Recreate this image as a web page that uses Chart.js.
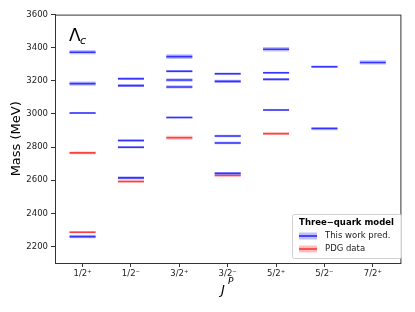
<!DOCTYPE html>
<html>
<head>
<meta charset="utf-8">
<script src="https://cdn.jsdelivr.net/npm/chart.js@4"></script>
<style>
  body { margin: 0; background: #fff; }
  #wrap { width: 415px; height: 312px; }
</style>
</head>
<body>
<div id="wrap"><canvas id="chart1" width="415" height="312"></canvas></div>
<script>
// J^P categories on the x axis
const categories = ['1/2\u207A', '1/2\u207B', '3/2\u207A', '3/2\u207B', '5/2\u207A', '5/2\u207B', '7/2\u207A'];
const yTicks = [2200, 2400, 2600, 2800, 3000, 3200, 3400, 3600];

// this work predictions (MeV), one list per J^P
const predMass = [
  [2259, 3006, 3183, 3373],
  [2614, 2799, 2840, 3171, 3213],
  [2979, 3163, 3205, 3258, 3346],
  [2641, 2825, 2867, 3197, 3243],
  [3024, 3209, 3249, 3391],
  [2912, 3285],
  [3311]
];
const predErr = [
  [10, 5, 13, 13],
  [10, 8, 8, 8, 8],
  [6, 10, 10, 8, 14],
  [8, 8, 8, 10, 8],
  [6, 6, 6, 14],
  [10, 7],
  [13]
];

// PDG data (MeV)
const pdgMass = [[2286, 2765], [2592], [2856], [2628], [2881], [], []];
const pdgErr = [[7, 8], [7], [12], [6], [6], [], []];

const blueLine = 'rgba(10,10,255,0.85)';
const blueBand = 'rgba(60,60,255,0.33)';
const redLine = 'rgba(255,20,20,0.8)';
const redBand = 'rgba(255,60,60,0.33)';

function toPoints(mass, err) {
  const pts = [];
  mass.forEach((list, i) => list.forEach((m, k) => pts.push({x: i, y: m, e: err[i][k]})));
  return pts;
}

// band thickness follows the error in MeV through the y scale
function bandWidth(ctx) {
  const p = ctx.raw;
  const y = ctx.chart.scales.y;
  if (!p || !y) return 3;
  return Math.max(2, Math.abs(y.getPixelForValue(p.y - p.e) - y.getPixelForValue(p.y + p.e)));
}

function levelSet(label, pts, line, band) {
  return [{
    label: label + ' band',
    data: pts,
    pointStyle: 'line',
    pointRadius: 13,
    pointHoverRadius: 13,
    pointBorderColor: band,
    pointBorderWidth: bandWidth,
    pointHoverBorderWidth: bandWidth,
    showLine: false
  }, {
    label: label,
    data: pts,
    pointStyle: 'line',
    pointRadius: 13,
    pointHoverRadius: 13,
    pointBorderColor: line,
    pointBorderWidth: 1.6,
    pointHoverBorderWidth: 1.6,
    showLine: false
  }];
}

const extras = {
  id: 'extras',
  afterDraw(chart) {
    const c = chart.ctx;
    const a = chart.chartArea;
    c.save();
    // frame
    c.strokeStyle = '#333';
    c.lineWidth = 1;
    c.strokeRect(a.left + 0.5, a.top + 0.5, a.right - a.left, a.bottom - a.top);

    // axis titles
    c.fillStyle = '#000';
    c.font = '13px "DejaVu Sans"';
    c.textAlign = 'center';
    c.textBaseline = 'middle';
    c.save();
    c.translate(17, (a.top + a.bottom) / 2);
    c.rotate(-Math.PI / 2);
    c.fillText('Mass (MeV)', 0, 0);
    c.restore();

    c.textAlign = 'left';
    c.textBaseline = 'alphabetic';
    c.font = 'italic 13px "DejaVu Sans"';
    c.fillText('J', 221, 294);
    c.font = 'italic 9px "DejaVu Sans"';
    c.fillText('P', 228, 284);

    // baryon label
    c.font = '17px "DejaVu Sans"';
    c.fillText('\u039B', 69, 41);
    c.font = 'italic 11px "DejaVu Sans"';
    c.fillText('c', 80, 44);

    // legend
    const lx = 292, ly = 214, lw = 109, lh = 44;
    c.fillStyle = 'rgba(255,255,255,0.85)';
    c.strokeStyle = '#d0d0d0';
    c.beginPath();
    c.roundRect(lx + 0.5, ly + 0.5, lw, lh, 2);
    c.fill();
    c.stroke();
    c.fillStyle = '#000';
    c.font = 'bold 8.5px "DejaVu Sans"';
    c.textAlign = 'center';
    c.textBaseline = 'middle';
    c.fillText('Three\u2212quark model', lx + lw / 2, ly + 8.5);
    const items = [['This work pred.', blueLine, blueBand], ['PDG data', redLine, redBand]];
    items.forEach((it, i) => {
      const y = ly + 22 + i * 13;
      c.strokeStyle = it[2];
      c.lineWidth = 7;
      c.beginPath(); c.moveTo(lx + 7, y); c.lineTo(lx + 25, y); c.stroke();
      c.strokeStyle = it[1];
      c.lineWidth = 1.6;
      c.beginPath(); c.moveTo(lx + 7, y); c.lineTo(lx + 25, y); c.stroke();
      c.fillStyle = '#222';
      c.font = '8.5px "DejaVu Sans"';
      c.textAlign = 'left';
      c.fillText(it[0], lx + 33, y);
    });
    c.restore();
  }
};

const ctx = document.getElementById('chart1').getContext('2d');
const myChart = new Chart(ctx, {
  type: 'scatter',
  data: {
    datasets: [
      ...levelSet('This work pred.', toPoints(predMass, predErr), blueLine, blueBand),
      ...levelSet('PDG data', toPoints(pdgMass, pdgErr), redLine, redBand)
    ]
  },
  options: {
    responsive: false,
    animation: false,
    devicePixelRatio: 1,
    events: [],
    layout: { padding: { top: 13, right: 10, left: 0, bottom: 0 } },
    plugins: { legend: { display: false }, tooltip: { enabled: false } },
    scales: {
      x: {
        type: 'linear',
        min: -0.57,
        max: 6.57,
        afterBuildTicks: axis => { axis.ticks = categories.map((c, i) => ({ value: i })); },
        afterFit: axis => { axis.height = 49; },
        ticks: {
          callback: v => categories[v],
          color: '#222',
          font: { family: 'DejaVu Sans', size: 8.5 },
          padding: 2,
          maxRotation: 0
        },
        grid: { drawOnChartArea: false, drawTicks: true, tickLength: 4, color: '#333' },
        border: { display: true, color: '#333' }
      },
      y: {
        min: 2100,
        max: 3600,
        afterBuildTicks: axis => { axis.ticks = yTicks.map(v => ({ value: v })); },
        afterFit: axis => { axis.width = 55; },
        ticks: {
          callback: v => String(v),
          color: '#222',
          font: { family: 'DejaVu Sans', size: 8.5 },
          padding: 3
        },
        grid: { drawOnChartArea: false, drawTicks: true, tickLength: 4, color: '#333' },
        border: { display: true, color: '#333' }
      }
    }
  },
  plugins: [extras]
});
</script>
</body>
</html>
